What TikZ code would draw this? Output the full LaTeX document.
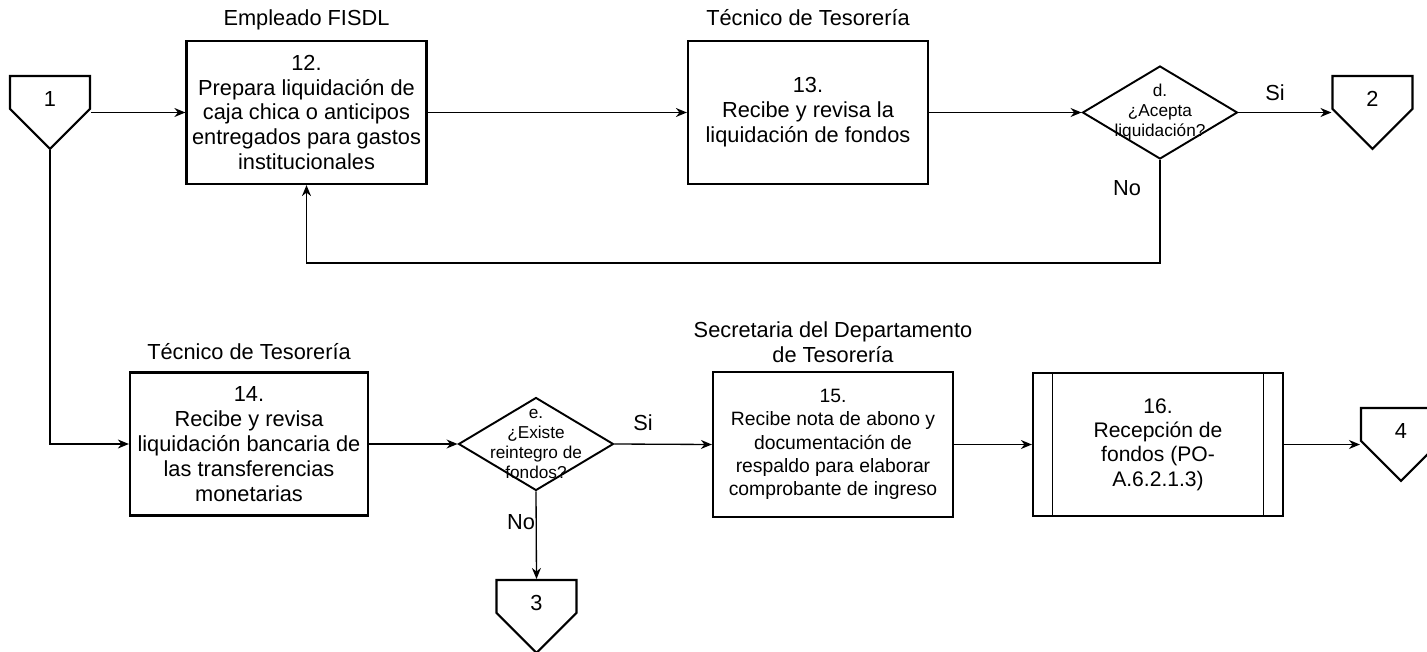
\documentclass[tikz,border=0pt]{standalone}
\usepackage{fontspec}
\setmainfont{Liberation Sans}
\usetikzlibrary{shapes.geometric,shapes.symbols,positioning,arrows.meta,calc}

\tikzset{
  procbox/.style={draw, rectangle, line width=1.3pt, minimum width=4.8cm, minimum height=2.86cm,
    align=center, inner sep=0pt, font=\fontsize{12.4}{14.2}\selectfont},
  subproc/.style={procbox, minimum width=5cm,
    path picture={
      \draw[line width=1.1pt] ([xshift=0.39cm]path picture bounding box.north west) -- ([xshift=0.39cm]path picture bounding box.south west);
      \draw[line width=1.1pt] ([xshift=-0.39cm]path picture bounding box.north east) -- ([xshift=-0.39cm]path picture bounding box.south east);
    }},
  decision/.style={draw, diamond, line width=1.1pt, minimum width=3.1cm, minimum height=1.86cm, inner sep=0pt},
  dectext/.style={align=center, inner sep=0pt, font=\fontsize{9.8}{11.3}\selectfont},
  offpage/.style={draw, signal, signal to=south, signal from=nowhere, signal pointer angle=90,
    line width=1.2pt, minimum width=1.6cm, minimum height=0.78cm, inner sep=0pt,
    text height=1.6em, text depth=0pt, font=\fontsize{12.4}{14.2}\selectfont},
  role/.style={align=center, inner sep=0pt, text depth=0.25em, font=\fontsize{12.4}{14.2}\selectfont},
  answer/.style={inner sep=0pt, font=\fontsize{12.4}{14.2}\selectfont},
  flow/.style={line width=0.75pt, -{Stealth[length=2.2mm,width=1.8mm]}}
}

\begin{document}
\begin{tikzpicture}[x=0.02cm, y=-0.02cm]
    \useasboundingbox (0,0) rectangle (1427,652);
    \clip (0,0) rectangle (1427,652);

    % Upper row
    \node[offpage] (c1) at (50,92.5) {1};
    \node[procbox] (b12) at (306.5,112.5) {12.\\Prepara liquidación de\\caja chica o anticipos\\entregados para gastos\\institucionales};
    \node[procbox] (b13) at (808,112.5) {13.\\Recibe y revisa la\\liquidación de fondos};
    \node[decision] (dd) at (1160,112.5) {};
    \node[dectext] (ddtext) at (1160,112) {d.\\¿Acepta\\liquidación?};
    \node[offpage] (c2) at (1372.5,92.5) {2};

    \node[role, above=0.19cm of b12] (r12) {Empleado FISDL};
    \node[role, above=0.19cm of b13] (r13) {Técnico de Tesorería};

    % Lower row
    \node[procbox, minimum width=4.76cm] (b14) at (249,444) {14.\\Recibe y revisa\\liquidación bancaria de\\las transferencias\\monetarias};
    \node[decision] (de) at (536,444) {};
    \node[dectext] (detext) at (536,444) {e.\\¿Existe\\reintegro de\\fondos?};
    \node[procbox, minimum height=2.9cm, font=\fontsize{11}{13.3}\selectfont] (b15) at (833,444.5) {15.\\Recibe nota de abono y\\documentación de\\respaldo para elaborar\\comprobante de ingreso};
    \node[subproc, font=\fontsize{12}{13.8}\selectfont] (b16) at (1158,444.5) {16.\\Recepción de\\fondos (PO-\\A.6.2.1.3)};
    \node[offpage] (c3) at (536.5,596.5) {3};
    \node[offpage] (c4) at (1401,424.5) {4};

    \node[role, above=0.15cm of b14] (r14) {Técnico de Tesorería};
    \node[role, above=0.07cm of b15] (r15) {Secretaria del Departamento\\de Tesorería};

    % Connections
    \draw[flow] (c1.east |- b12.west) -- (b12.west);
    \draw[flow] (c1.south) |- (b14.west);
    \draw[flow] (b12.east) -- (b13.west);
    \draw[flow] (b13.east) -- (dd.west);
    \draw[flow] (dd.east) -- (dd.east -| c2.west);
    \draw[flow] (dd.south) -- ++(0,103) -| (b12.south);
    \draw[flow] (b14.east) -- (de.west);
    \draw[flow] (de.east) -- (b15.west);
    \draw[flow] (de.south) -- (c3.north);
    \draw[flow] (b15.east) -- (b16.west);
    \draw[flow] (b16.east) -- (b16.east -| c4.west);

    % Answers
    \node[answer] (si1) at (1275,93) {Si};
    \node[answer] (no1) at (1127,188) {No};
    \node[answer] (si2) at (643,423) {Si};
    \node[answer] (no2) at (521,522) {No};
\end{tikzpicture}
\end{document}
